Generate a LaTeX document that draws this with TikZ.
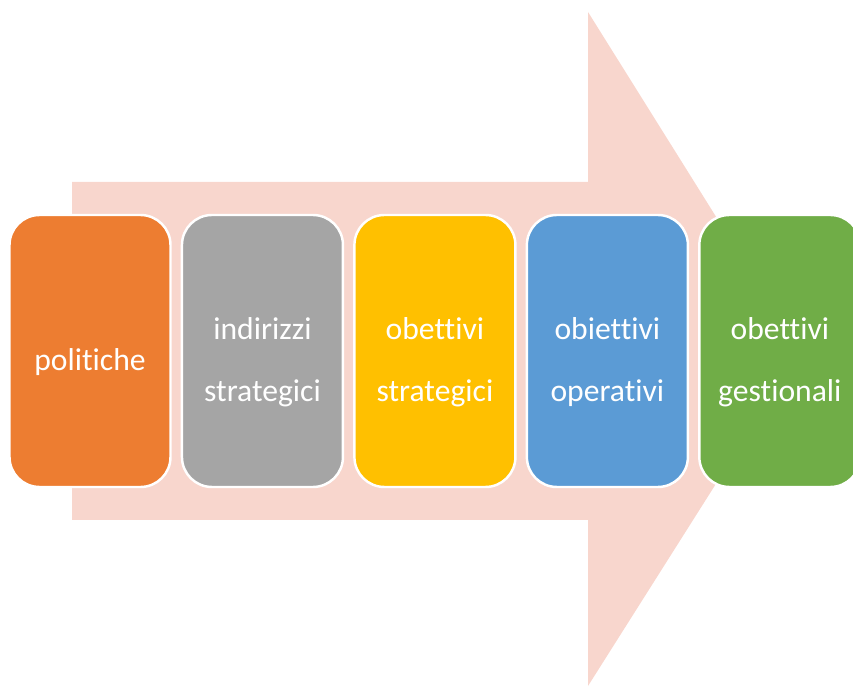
\documentclass[tikz,border=0pt]{standalone}
\usepackage{fontspec}
\setmainfont[Ligatures=NoCommon]{Carlito}
\usepackage{xcolor}
\usetikzlibrary{positioning}
\definecolor{arrowpink}{HTML}{F8D6CD}
\definecolor{polorange}{HTML}{ED7D31}
\definecolor{indgray}{HTML}{A5A5A5}
\definecolor{obsyellow}{HTML}{FFC000}
\definecolor{oboblue}{HTML}{5B9BD5}
\definecolor{obggreen}{HTML}{70AD47}
\tikzset{
  stepbox/.style={draw=white, line width=1.4pt, rounded corners=0.6cm,
    minimum width=3.22cm, minimum height=5.44cm, inner sep=0pt},
  steptext/.style={text=white, align=center, yshift=-0.22cm,
    font=\fontsize{18}{35}\selectfont, inner sep=0pt}
}

\begin{document}
\begin{tikzpicture}
        \useasboundingbox (0,0) rectangle (17.06,13.74);
        % Big arrow behind
        \fill[arrowpink] (1.44,3.34) -- (1.44,10.1) -- (11.76,10.1) -- (11.76,13.5)
            -- (16.0,6.72) -- (11.76,0.02) -- (11.76,3.34) -- cycle;

        % Steps
        \node[stepbox, fill=polorange, label={[steptext]center:politiche}] (pol) at (1.8,6.72) {};
        \node[stepbox, fill=indgray, right=0.18cm of pol,
            label={[steptext]center:indirizzi\\strategici}] (ind) {};
        \node[stepbox, fill=obsyellow, right=0.18cm of ind,
            label={[steptext]center:obettivi\\strategici}] (obs) {};
        \node[stepbox, fill=oboblue, right=0.18cm of obs,
            label={[steptext]center:obiettivi\\operativi}] (obo) {};
        \node[stepbox, fill=obggreen, right=0.18cm of obo,
            label={[steptext]center:obettivi\\gestionali}] (obg) {};
    \end{tikzpicture}
\end{document}
